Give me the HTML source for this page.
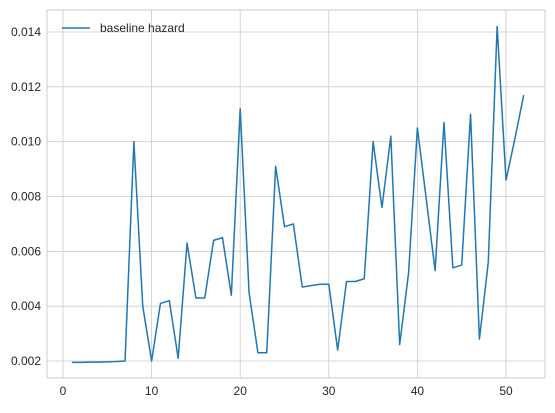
<!DOCTYPE html>
<html><head><meta charset="utf-8"><style>
body{margin:0;background:#fff;font-family:"Liberation Sans",Arial,sans-serif}
svg text{font-family:"Liberation Sans",Arial,sans-serif;fill:#262626}
</style></head><body>
<svg id="chart" width="555" height="408" xmlns="http://www.w3.org/2000/svg"></svg>
<script>
const xs=[1,2,3,4,5,6,7,8,9,10,11,12,13,14,15,16,17,18,19,20,21,22,23,24,25,26,27,28,29,30,31,32,33,34,35,36,37,38,39,40,41,42,43,44,45,46,47,48,49,50,51,52];
const hazard=[0.00195,0.00195,0.00196,0.00196,0.00197,0.00198,0.002,0.0100,0.0040,0.0020,0.0041,0.0042,0.0021,0.0063,0.0043,0.0043,0.0064,0.0065,0.0044,0.0112,0.0045,0.0023,0.0023,0.0091,0.0069,0.0070,0.0047,0.00475,0.0048,0.0048,0.0024,0.0049,0.0049,0.0050,0.0100,0.0076,0.0102,0.0026,0.0052,0.0105,0.0079,0.0053,0.0107,0.0054,0.0055,0.0110,0.0028,0.0056,0.0142,0.0086,0.0101,0.0117];
const xTicks=[0,10,20,30,40,50];
const yTicks=[0.002,0.004,0.006,0.008,0.010,0.012,0.014];
const NS="http://www.w3.org/2000/svg";
const svg=document.getElementById('chart');
const L=47,R=545,T=10,B=378;
const xS=v=>63+(v-0)*(506-63)/50;
const yS=v=>361-(v-0.002)*(361-32)/0.012;
function mk(tag,attrs,parent){const e=document.createElementNS(NS,tag);for(const k in attrs)e.setAttribute(k,attrs[k]);(parent||svg).appendChild(e);return e;}
const grid=mk('g',{});


xTicks.forEach(t=>{
 const l=mk('line',{x1:xS(t),x2:xS(t),y1:T,y2:B,stroke:'#cccccc','stroke-width':0.8},grid);
 
 
 const tx=mk('text',{x:xS(t),y:B+17,'text-anchor':'middle','font-size':12});
 tx.textContent=t;
 
 
});
yTicks.forEach(t=>{
 const l=mk('line',{x1:L,x2:R,y1:yS(t),y2:yS(t),stroke:'#cccccc','stroke-width':0.8},grid);
 
 
 const tx=mk('text',{x:L-6,y:yS(t)+4,'text-anchor':'end','font-size':12});
 tx.textContent=t.toFixed(3);
 
 
});
const frame=mk('rect',{x:L,y:T,width:R-L,height:B-T,fill:'none',stroke:'#cccccc','stroke-width':1});


const line=mk('polyline',{points:xs.map((x,i)=>xS(x)+','+yS(hazard[i])).join(' '),fill:'none',stroke:'#1f77b4','stroke-width':1.5,'stroke-linejoin':'round'});


const lg=mk('g',{});


mk('line',{x1:62,x2:90,y1:28,y2:28,stroke:'#1f77b4','stroke-width':1.5},lg);
const lt=mk('text',{x:100,y:32,'font-size':12},lg);
lt.textContent='baseline hazard';
</script>
</body></html>
